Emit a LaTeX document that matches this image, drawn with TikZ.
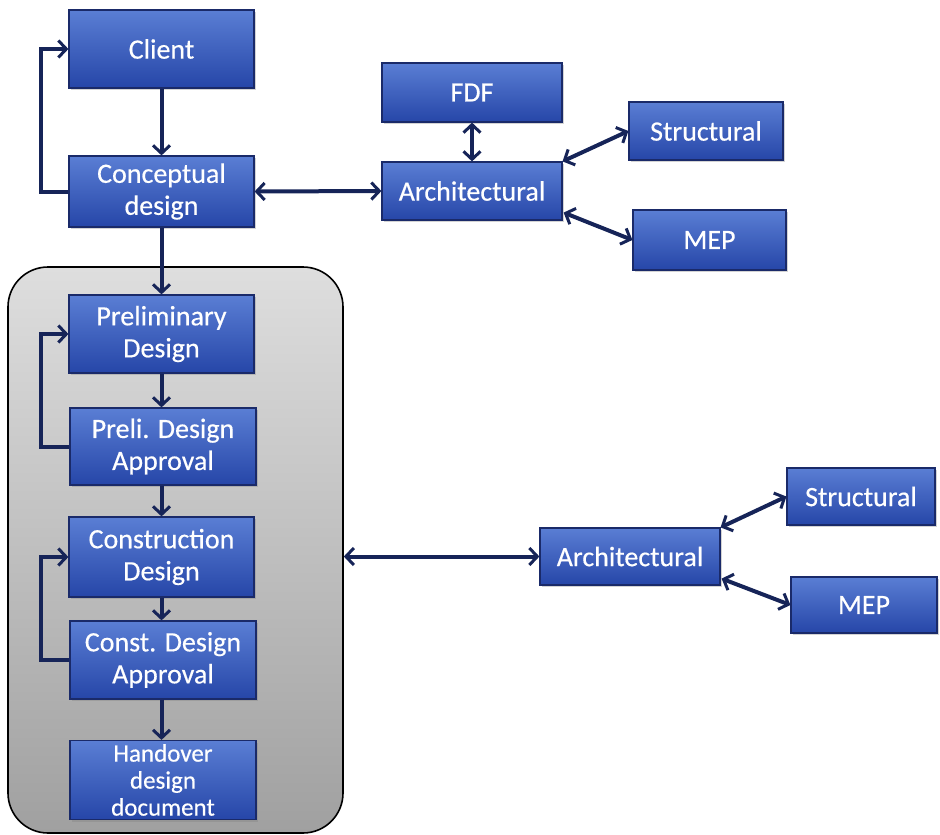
\documentclass[tikz,border=0pt]{standalone}
\usepackage{fontspec}
\setmainfont{Carlito}[FakeBold=0.4]
\usetikzlibrary{arrows.meta,calc,shadows}
\definecolor{boxtop}{RGB}{90,126,212}
\definecolor{boxbot}{RGB}{38,70,168}
\definecolor{boxline}{RGB}{26,42,105}
\definecolor{arrowc}{RGB}{22,36,88}
\definecolor{greytop}{RGB}{222,222,222}
\definecolor{greybot}{RGB}{160,160,160}
\tikzset{
  bluebox/.style={rectangle, draw=boxline, line width=1.2pt, top color=boxtop, bottom color=boxbot,
    text=white, font=\fontsize{28}{32}\selectfont, align=center, inner sep=0pt,
    drop shadow={opacity=0.35, shadow xshift=1.5pt, shadow yshift=-2pt}},
  conn/.style={draw=arrowc, line width=4pt, -{Straight Barb[length=8pt,width=17pt,line width=3pt]}},
  bconn/.style={draw=arrowc, line width=4pt, {Straight Barb[length=8pt,width=17pt,line width=3pt]}-{Straight Barb[length=8pt,width=17pt,line width=3pt]}},
  phasebox/.style={rectangle, rounded corners=40pt, draw=black, line width=1.6pt, top color=greytop, bottom color=greybot, inner sep=0pt}
}
\begin{document}
\begin{tikzpicture}[x=1pt,y=-1pt]
\useasboundingbox (0,0) rectangle (940,835);
\node[phasebox, minimum width=335pt, minimum height=566pt] (phase) at (175.5,550) {};

\node[bluebox, minimum width=185pt, minimum height=78pt] (client) at (161.5,49) {Client};
\node[bluebox, minimum width=185pt, minimum height=71pt] (concept) at (161.5,191.5) {Conceptual\\design};
\node[bluebox, minimum width=180pt, minimum height=59pt] (fdf) at (472,92.5) {FDF};
\node[bluebox, minimum width=180pt, minimum height=58pt] (arch1) at (472,191) {Architectural};
\node[bluebox, minimum width=154pt, minimum height=58pt] (struct1) at (706,131) {Structural};
\node[bluebox, minimum width=153pt, minimum height=60pt] (mep1) at (709.5,240) {MEP};

\node[bluebox, minimum width=185pt, minimum height=78pt] (prelim) at (161.5,334) {Preliminary\\Design};
\node[bluebox, minimum width=186pt, minimum height=77pt] (prelappr) at (163,446.5) {Preli. Design\\Approval};
\node[bluebox, minimum width=185pt, minimum height=80pt] (constr) at (161.5,557) {Construction\\Design};
\node[bluebox, minimum width=186pt, minimum height=78pt] (constappr) at (163,660) {Const. Design\\Approval};
\node[bluebox, minimum width=186pt, minimum height=79pt, font=\fontsize{25}{27}\selectfont] (handover) at (163,780) {Handover\\design\\document};

\node[bluebox, minimum width=180pt, minimum height=57pt] (arch2) at (630,556.5) {Architectural};
\node[bluebox, minimum width=148pt, minimum height=57pt] (struct2) at (861,496.5) {Structural};
\node[bluebox, minimum width=146pt, minimum height=56pt] (mep2) at (864,605) {MEP};

% top part
\draw[conn] (client.south) -- (concept.north);
\draw[conn] (concept.west) -- ++(-27,0) |- (client.west);
\draw[bconn] (concept.east) -- (arch1.west);
\draw[bconn] (fdf.south) -- (arch1.north);
\draw[bconn] (arch1.north east) -- (struct1.west);
\draw[bconn] ($(arch1.south east)+(1,-8)$) -- (mep1.west);

% phase chain
\draw[conn] (concept.south) -- (prelim.north);
\draw[conn] (prelim.south) -- (prelim.south |- prelappr.north);
\draw[conn] (prelim.south |- prelappr.south) -- (prelim.south |- constr.north);
\draw[conn] (constr.south) -- (constr.south |- constappr.north);
\draw[conn] (constr.south |- constappr.south) -- (constr.south |- handover.north);
\draw[conn] (prelappr.west) -- ++(-28,0) |- (prelim.west);
\draw[conn] (constappr.west) -- ++(-28,0) |- (constr.west);

% bottom right
\draw[bconn] (phase.east |- arch2.west) -- (arch2.west);
\draw[bconn] (arch2.north east) -- (struct2.west);
\draw[bconn] ($(arch2.south east)+(1,-7)$) -- (mep2.west);
\end{tikzpicture}
\end{document}
